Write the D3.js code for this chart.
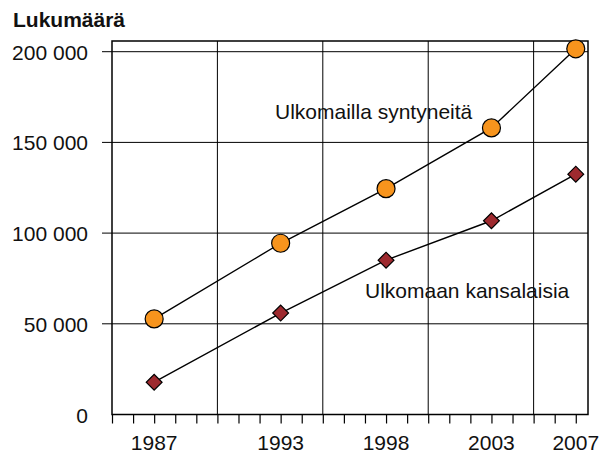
<!DOCTYPE html>
<html>
<head>
<meta charset="utf-8">
<script src="https://cdn.jsdelivr.net/npm/d3@7"></script>
<style>
  body { margin: 0; background: #fff; }
  text { font-family: "Liberation Sans", Arial, sans-serif; fill: #111; }
</style>
</head>
<body>
<svg id="chart"></svg>
<script>
// data
const years = [1987, 1993, 1998, 2003, 2007];
const bornAbroad = [52700, 94400, 124500, 158000, 201600];   // Ulkomailla syntyneitä
const foreignCitizens = [17800, 55900, 85100, 106800, 132500]; // Ulkomaan kansalaisia
const yTicks = [0, 50000, 100000, 150000, 200000];
const xGrid = [1990, 1995, 2000, 2005];

function makeChart() {
    let w = 599, h = 454;
    let left = 112, right = 588, top = 41, bottom = 414.5;

    let svg = d3.select("#chart").attr("width", w).attr("height", h);

    let x = d3.scaleLinear().domain([1985, 2007.58]).range([left, right]);
    let y = d3.scaleLinear().domain([0, 205900]).range([bottom, top]);

    // horizontal gridlines + outward ticks
    svg.append("g")
        .selectAll("line")
        .data(yTicks.filter(d => d > 0))
        .enter()
        .append("line")
            .attr("x1", left - 10)
            .attr("x2", right)
            .attr("y1", d => y(d))
            .attr("y2", d => y(d))
            .style("stroke", "#000")
            .style("stroke-width", 1);

    // vertical gridlines
    svg.append("g")
        .selectAll("line")
        .data(xGrid)
        .enter()
        .append("line")
            .attr("x1", d => x(d))
            .attr("x2", d => x(d))
            .attr("y1", top)
            .attr("y2", bottom)
            .style("stroke", "#000")
            .style("stroke-width", 1);

    // frame
    svg.append("rect")
        .attr("x", left)
        .attr("y", top)
        .attr("width", right - left)
        .attr("height", bottom - top)
        .style("fill", "none")
        .style("stroke", "#000")
        .style("stroke-width", 1.5);

    // yearly ticks under the axis
    svg.append("g")
        .attr("transform", `translate(0,${bottom})`)
        .call(d3.axisBottom(x).tickValues(d3.range(1985, 2008)).tickSize(9).tickFormat(""))
        .call(g => g.select(".domain").remove())
        .call(g => g.selectAll("line").style("stroke", "#000").style("stroke-width", 1.2));

    // x labels
    svg.append("g")
        .selectAll("text")
        .data(years)
        .enter()
        .append("text")
            .attr("x", d => x(d))
            .attr("y", 450)
            .attr("text-anchor", "middle")
            .style("font-size", "21px")
            .text(d => d);

    // y labels
    let fmt = d => d3.format(",")(d).replace(/,/g, " ");
    svg.append("g")
        .selectAll("text")
        .data(yTicks)
        .enter()
        .append("text")
            .attr("x", 88)
            .attr("y", d => y(d) + 8)
            .attr("text-anchor", "end")
            .style("font-size", "21px")
            .text(fmt);

    svg.append("text")
        .attr("x", 13)
        .attr("y", 27)
        .style("font-size", "21px")
        .style("font-weight", "bold")
        .text("Lukumäärä");

    let line = d3.line()
        .x(d => x(d[0]))
        .y(d => y(d[1]));

    let s1 = years.map((yr, i) => [yr, bornAbroad[i]]);
    let s2 = years.map((yr, i) => [yr, foreignCitizens[i]]);

    svg.append("path")
        .attr("d", line(s1))
        .style("fill", "none")
        .style("stroke", "#000")
        .style("stroke-width", 1.4);

    svg.append("path")
        .attr("d", line(s2))
        .style("fill", "none")
        .style("stroke", "#000")
        .style("stroke-width", 1.4);

    svg.append("g")
        .selectAll("circle")
        .data(s1)
        .enter()
        .append("circle")
            .attr("cx", d => x(d[0]))
            .attr("cy", d => y(d[1]))
            .attr("r", 9)
            .style("fill", "#F7941D")
            .style("stroke", "#000")
            .style("stroke-width", 1.2);

    svg.append("g")
        .selectAll("path")
        .data(s2)
        .enter()
        .append("path")
            .attr("d", d3.symbol().type(d3.symbolSquare).size(125))
            .attr("transform", d => `translate(${x(d[0])},${y(d[1])}) rotate(45)`)
            .style("fill", "#9E2A2F")
            .style("stroke", "#000")
            .style("stroke-width", 1.2);

    svg.append("text")
        .attr("x", 275)
        .attr("y", 119)
        .style("font-size", "21px")
        .text("Ulkomailla syntyneitä");

    svg.append("text")
        .attr("x", 365)
        .attr("y", 298)
        .style("font-size", "21px")
        .text("Ulkomaan kansalaisia");
}

window.onload = function() {
    makeChart();
}
</script>
</body>
</html>
